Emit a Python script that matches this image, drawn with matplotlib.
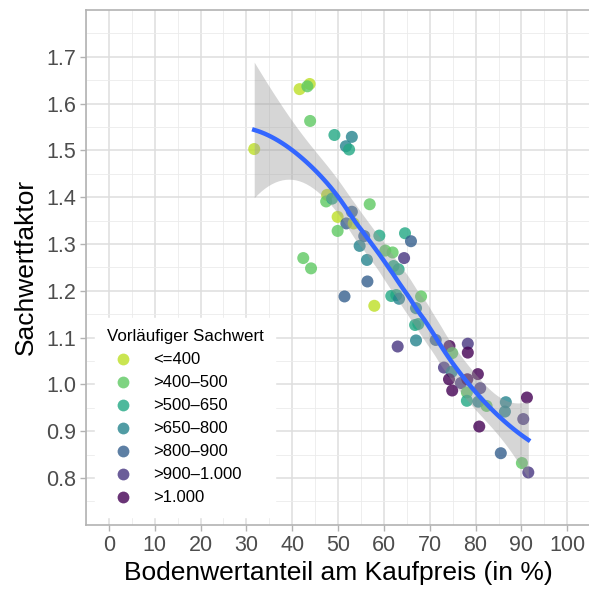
import matplotlib
matplotlib.use("Agg")
import matplotlib.pyplot as plt
from matplotlib.lines import Line2D
import numpy as np

plt.rcParams["font.family"] = ["Liberation Sans", "DejaVu Sans"]

categories = ["<=400", ">400–500", ">500–650", ">650–800", ">800–900", ">900–1.000", ">1.000"]

# Bodenwertanteil (%), Sachwertfaktor, Klasse (Index in categories)
anteil = [31.7, 41.6, 43.8, 43.3, 43.9, 49.2, 53.0, 51.7, 52.4, 47.6,
          47.4, 48.7, 56.9, 49.9, 53.0, 51.8, 53.4, 49.9, 55.7, 59.0,
          54.7, 64.6, 65.9, 60.3, 61.9, 64.4, 42.4, 44.1, 56.3, 62.1,
          63.2, 56.4, 51.4, 57.9, 61.6, 62.7, 63.3, 68.1, 67.0, 66.8,
          67.5, 67.0, 63.0, 71.3, 74.3, 78.3, 78.3, 74.9, 73.1, 74.8,
          74.2, 74.9, 76.8, 80.5, 81.0, 78.2, 78.1, 78.1, 80.6, 82.4,
          86.6, 86.4, 80.8, 91.2, 90.4, 85.5, 90.1, 91.5]
faktor = [1.503, 1.631, 1.642, 1.637, 1.563, 1.533, 1.529, 1.509, 1.502, 1.405,
          1.391, 1.397, 1.385, 1.358, 1.369, 1.344, 1.344, 1.328, 1.317, 1.318,
          1.296, 1.323, 1.306, 1.286, 1.282, 1.270, 1.270, 1.248, 1.266, 1.253,
          1.246, 1.220, 1.188, 1.168, 1.189, 1.191, 1.183, 1.188, 1.163, 1.127,
          1.129, 1.094, 1.081, 1.095, 1.082, 1.087, 1.068, 1.067, 1.036, 1.027,
          1.011, 0.987, 1.003, 1.022, 0.992, 1.011, 0.983, 0.965, 0.963, 0.954,
          0.962, 0.942, 0.910, 0.972, 0.926, 0.853, 0.832, 0.812]
klasse = [0, 0, 0, 1, 1, 2, 3, 3, 2, 0,
          1, 2, 1, 0, 4, 4, 0, 1, 4, 2,
          3, 2, 4, 1, 1, 5, 1, 1, 3, 2,
          2, 4, 4, 0, 2, 2, 3, 1, 3, 2,
          2, 3, 5, 4, 6, 5, 6, 1, 5, 3,
          6, 6, 5, 6, 5, 6, 1, 2, 3, 1,
          3, 3, 6, 6, 5, 4, 1, 5]

x = np.array(anteil)
y = np.array(faktor)


def loess_rows(xd, x0s, span=0.75):
    # lokale quadratische Regression mit Tricube-Gewichten (wie R loess)
    n = len(xd)
    q = int(np.floor(n * span))
    rows = []
    for x0 in x0s:
        d = np.abs(xd - x0)
        h = np.sort(d)[q - 1]
        w = np.clip(1 - (d / h) ** 3, 0, None) ** 3
        X = np.column_stack([np.ones(n), xd - x0, (xd - x0) ** 2])
        XtW = X.T * w
        rows.append(np.linalg.solve(XtW @ X, XtW)[0])
    return np.array(rows)


L = loess_rows(x, x)
R = np.eye(len(x)) - L
RtR = R.T @ R
delta1 = np.trace(RtR)
sigma = np.sqrt(np.sum((R @ y) ** 2) / delta1)
tq = 1.99

xs = np.linspace(x.min(), x.max(), 80)
Ls = loess_rows(x, xs)
fit = Ls @ y
se = sigma * np.sqrt(np.sum(Ls ** 2, axis=1))

cmap = plt.get_cmap("viridis")
cols = [cmap(v) for v in [0.9, 0.75, 0.6, 0.45, 0.3, 0.15, 0.0]]

fig = plt.figure(figsize=(5.89, 5.91), dpi=100)
ax = fig.add_axes([0.146, 0.112, 0.856, 0.871])

ax.scatter(x, y, c=[cols[k] for k in klasse], s=75, alpha=0.8, linewidths=0, zorder=3)
ax.fill_between(xs, fit - tq * se, fit + tq * se, color="#999999", alpha=0.4, linewidth=0, zorder=4)
ax.plot(xs, fit, color="#3366FF", lw=3.2, zorder=5)

ax.set_xlim(-5, 105)
ax.set_ylim(0.70, 1.80)
ax.set_xticks(np.arange(0, 101, 10))
ax.set_xticks(np.arange(-5, 106, 10), minor=True)
ax.set_yticks(np.arange(0.8, 1.71, 0.1))
ax.set_yticks(np.arange(0.75, 1.80, 0.1), minor=True)
ax.set_yticklabels([f"{v:.1f}" for v in np.arange(0.8, 1.71, 0.1)])

ax.grid(which="major", color="#DEDEDE", lw=1.1)
ax.grid(which="minor", color="#EBEBEB", lw=0.6)
ax.set_axisbelow(True)
for s in ax.spines.values():
    s.set_color("#B3B3B3")
    s.set_linewidth(1.2)
ax.tick_params(which="major", length=4, width=1, color="#B3B3B3",
               labelsize=15.5, labelcolor="#4D4D4D", pad=3)
ax.tick_params(which="minor", length=0)

ax.set_xlabel("Bodenwertanteil am Kaufpreis (in %)", fontsize=19, labelpad=4)
ax.set_ylabel("Sachwertfaktor", fontsize=19, labelpad=6)

handles = [Line2D([], [], marker="o", ls="", color=c, markersize=8.5, alpha=0.8,
                  markeredgewidth=0) for c in cols]
leg = ax.legend(handles, categories, title="Vorläufiger Sachwert", loc="lower left",
                bbox_to_anchor=(0.018, 0.015), borderaxespad=0, frameon=True, fancybox=False,
                edgecolor="white", framealpha=1, fontsize=12, title_fontsize=12.2,
                labelspacing=0.48, handlelength=2.0, handletextpad=0.8, borderpad=0.7)
leg._legend_box.align = "left"
leg.set_zorder(6)

fig.savefig("out.png", dpi=100)
